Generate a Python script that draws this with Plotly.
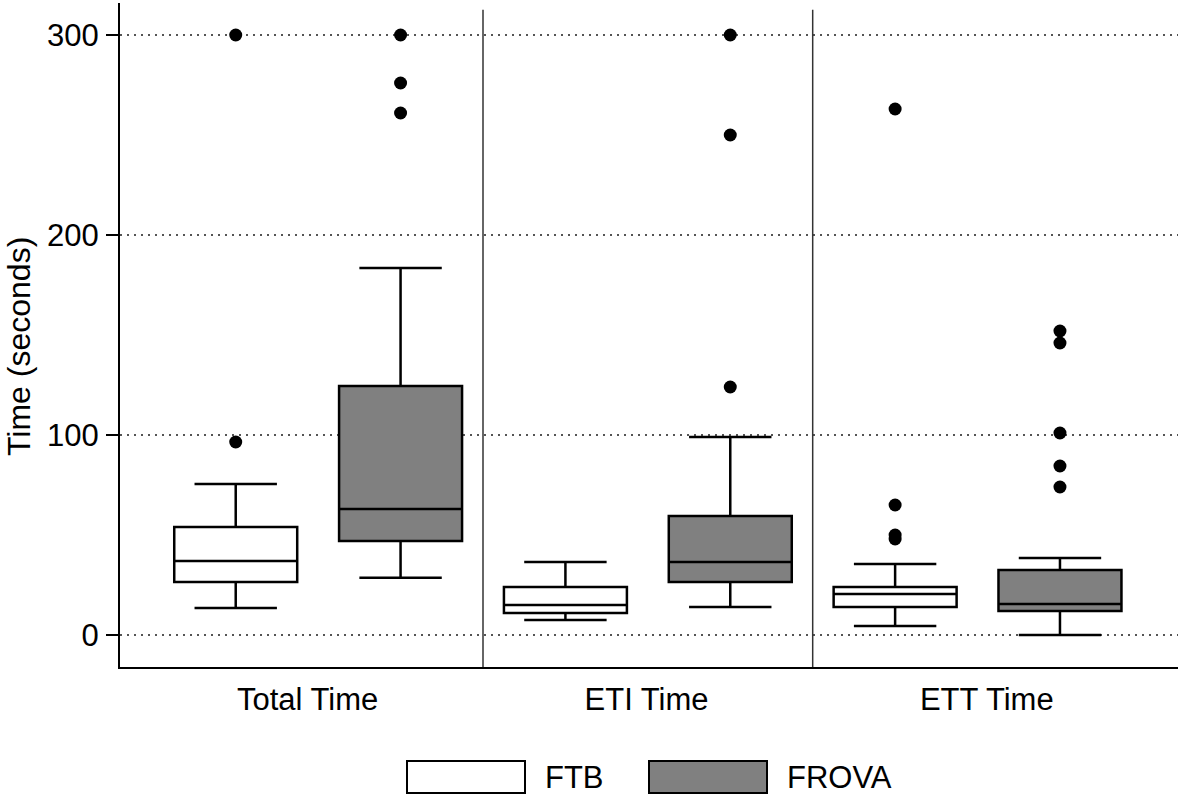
import plotly.graph_objects as go

# ---- data (seconds) ----
categories = ["Total Time", "ETI Time", "ETT Time"]
groups = ["FTB", "FROVA"]

ftb_lower = [13.5, 7.5, 4.5]
ftb_q1 = [26.5, 11, 14]
ftb_median = [37, 15, 20.5]
ftb_q3 = [54, 24, 24]
ftb_upper = [75.5, 36.5, 35.5]
ftb_outliers = [[96.5, 300], [], [48, 50, 65, 263]]

frova_lower = [28.6, 14, 0]
frova_q1 = [47, 26.5, 12]
frova_median = [63, 36.5, 15.5]
frova_q3 = [124.5, 59.5, 32.5]
frova_upper = [183.5, 99, 38.5]
frova_outliers = [[261, 276, 300], [124, 250, 300], [74, 84.5, 101, 146, 152]]

yticks = [0, 100, 200, 300]

FONT = "Liberation Sans, Arial, sans-serif"
GRAY = "#808080"

fig = go.Figure()

offsets = {"FTB": -0.25, "FROVA": 0.25}
fills = {"FTB": "white", "FROVA": GRAY}
stats = {
    "FTB": (ftb_lower, ftb_q1, ftb_median, ftb_q3, ftb_upper, ftb_outliers),
    "FROVA": (frova_lower, frova_q1, frova_median, frova_q3, frova_upper, frova_outliers),
}

for g in groups:
    lo, q1, med, q3, up, outs = stats[g]
    xs = [i + offsets[g] for i in range(len(categories))]
    fig.add_trace(go.Box(
        name=g, x=xs, q1=q1, median=med, q3=q3, lowerfence=lo, upperfence=up,
        width=0.373, whiskerwidth=0.67, boxpoints=False,
        fillcolor=fills[g], line=dict(color="black", width=2.5),
        showlegend=False, hoverinfo="skip",
    ))
    ox, oy = [], []
    for i, vals in enumerate(outs):
        for v in vals:
            ox.append(i + offsets[g])
            oy.append(v)
    fig.add_trace(go.Scatter(
        x=ox, y=oy, mode="markers", name=g + " outliers",
        marker=dict(color="black", size=13, line=dict(width=0)),
        showlegend=False, hoverinfo="skip",
    ))

# panel separators
for xs in [0.5, 1.5]:
    fig.add_shape(type="line", xref="x", yref="paper", x0=xs, x1=xs, y0=0, y1=0.99,
                  line=dict(color="#333333", width=1.5))

# custom legend
W, H = 1058.0, 664.0
def px_x(p):
    return (p - 120) / W
def px_y(p):
    return (667 - p) / H

legend_items = [("FTB", 407, 525, 543), ("FROVA", 649, 767, 785)]
for g, x0, x1, tx in legend_items:
    fig.add_shape(type="rect", xref="paper", yref="paper",
                  x0=px_x(x0), x1=px_x(x1), y0=px_y(793), y1=px_y(761),
                  fillcolor=fills[g], line=dict(color="black", width=2))
    fig.add_annotation(xref="paper", yref="paper", x=px_x(tx), y=px_y(777),
                       text=g, showarrow=False, xanchor="left", yanchor="middle",
                       font=dict(family=FONT, size=31, color="black"))

# y title
fig.add_annotation(xref="paper", yref="paper", x=px_x(19), y=px_y(347),
                   text="Time (seconds)", textangle=-90, showarrow=False,
                   xanchor="center", yanchor="middle",
                   font=dict(family=FONT, size=32, color="black"))

fig.update_layout(
    width=1181, height=797,
    margin=dict(l=120, r=3, t=3, b=130, autoexpand=False),
    paper_bgcolor="white", plot_bgcolor="white",
    boxmode="overlay",
    font=dict(family=FONT, size=31, color="black"),
    showlegend=False,
)
fig.update_xaxes(
    range=[-0.601, 2.608], automargin=False,
    tickmode="array", tickvals=[-0.032, 0.996, 2.028], ticktext=categories,
    tickangle=0,
    ticks="", showgrid=False, zeroline=False,
    showline=True, linecolor="black", linewidth=2,
    tickfont=dict(family=FONT, size=31, color="black"),
    ticklabelstandoff=4,
)
fig.update_yaxes(
    range=[-16, 316], automargin=False,
    tickmode="array", tickvals=yticks,
    ticks="outside", ticklen=12, tickwidth=2, tickcolor="black",
    showgrid=True, gridcolor="#555555", gridwidth=2, griddash="2px,5px",
    zeroline=False,
    showline=True, linecolor="black", linewidth=2,
    tickfont=dict(family=FONT, size=31, color="black"),
    ticklabelstandoff=1,
)

fig.write_html("out.html", config={"displayModeBar": False},
               post_script="document.body.style.margin='0';document.body.style.overflow='hidden';")
